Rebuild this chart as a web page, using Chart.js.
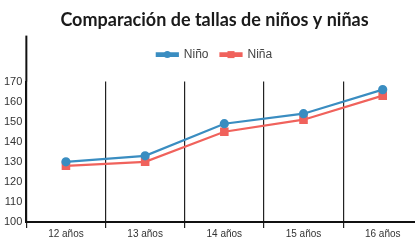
<!DOCTYPE html>
<html>
<head>
<meta charset="utf-8">
<script src="https://cdn.jsdelivr.net/npm/chart.js@4.4.0/dist/chart.umd.min.js"></script>
<style>
  html, body { margin: 0; padding: 0; background: #fff; overflow: hidden; }
  #wrap { width: 415px; height: 240px; overflow: hidden; }
</style>
</head>
<body>
<div id="wrap"><canvas id="tallas-chart" width="429" height="240"></canvas></div>
<script>
    'use strict';

    // datos
    const edades = ['12 años', '13 años', '14 años', '15 años', '16 años'];
    const tallaNino = [130, 133, 149, 154, 166];
    const tallaNina = [128, 130, 145, 151, 163];
    const ticksY = [100, 110, 120, 130, 140, 150, 160, 170];

    const azul = '#3a8dc1';
    const rojo = '#f0625c';
    const fuente = '"Liberation Sans", sans-serif';

    // espacio extra debajo de la leyenda
    const legendMargin = {
        id: 'legendMargin',
        beforeInit: function (chart) {
            const fitOrig = chart.legend.fit;
            chart.legend.fit = function () {
                fitOrig.bind(chart.legend)();
                this.height += 11;
            };
        }
    };

    // dibuja el marcador encima de la linea de la leyenda y alarga el eje Y
    const extras = {
        id: 'extras',
        afterDraw: function (chart) {
            const c = chart.ctx;
            const area = chart.chartArea;
            c.save();
            c.strokeStyle = '#111';
            c.lineWidth = 2;
            c.beginPath();
            c.moveTo(area.left, chart.titleBlock.bottom - 1);
            c.lineTo(area.left, area.top);
            c.stroke();

            const boxes = chart.legend.legendHitBoxes;
            chart.data.datasets.forEach(function (ds, i) {
                const b = boxes[i];
                const cx = b.left + 10.5;
                const cy = b.top + b.height / 2;
                c.fillStyle = ds.borderColor;
                if (ds.pointStyle === 'rect') {
                    c.fillRect(cx - 3.5, cy - 3.5, 7, 7);
                } else {
                    c.beginPath();
                    c.arc(cx, cy, 3.5, 0, Math.PI * 2);
                    c.fill();
                }
            });
            c.restore();
        }
    };

    new Chart(document.getElementById('tallas-chart'), {
        type: 'line',
        data: {
            labels: edades,
            datasets: [{
                label: 'Niño',
                data: tallaNino,
                borderColor: azul,
                backgroundColor: azul,
                borderWidth: 2.2,
                pointStyle: 'circle',
                pointRadius: 3.5,
                tension: 0
            }, {
                label: 'Niña',
                data: tallaNina,
                borderColor: rojo,
                backgroundColor: rojo,
                borderWidth: 2.2,
                pointStyle: 'rect',
                pointRadius: 4.5,
                tension: 0
            }]
        },
        options: {
            responsive: false,
            animation: false,
            layout: { padding: 0 },
            scales: {
                x: {
                    offset: true,
                    grid: {
                        offset: true,
                        color: '#222',
                        lineWidth: 1.2,
                        tickLength: 6
                    },
                    border: { color: '#111', width: 2 },
                    ticks: {
                        color: '#333',
                        padding: 0,
                        font: { family: fuente, size: 10 }
                    }
                },
                y: {
                    min: 100,
                    max: 170,
                    afterBuildTicks: function (axis) {
                        axis.ticks = ticksY.map(function (v) { return { value: v }; });
                    },
                    grid: { display: false, drawTicks: false },
                    border: { color: '#111', width: 2 },
                    ticks: {
                        color: '#333',
                        padding: 4,
                        font: { family: fuente, size: 11 }
                    }
                }
            },
            plugins: {
                title: {
                    display: true,
                    text: 'Comparación de tallas de niños y niñas',
                    color: '#1a1a1a',
                    font: { family: 'Lato, sans-serif', size: 18, weight: 'bold' },
                    padding: { top: 9, bottom: 6 }
                },
                legend: {
                    display: true,
                    labels: {
                        boxWidth: 21,
                        boxHeight: 2.5,
                        color: '#444',
                        padding: 12,
                        font: { family: fuente, size: 12 }
                    }
                },
                tooltip: { enabled: false }
            }
        },
        plugins: [legendMargin, extras]
    });
</script>
</body>
</html>
